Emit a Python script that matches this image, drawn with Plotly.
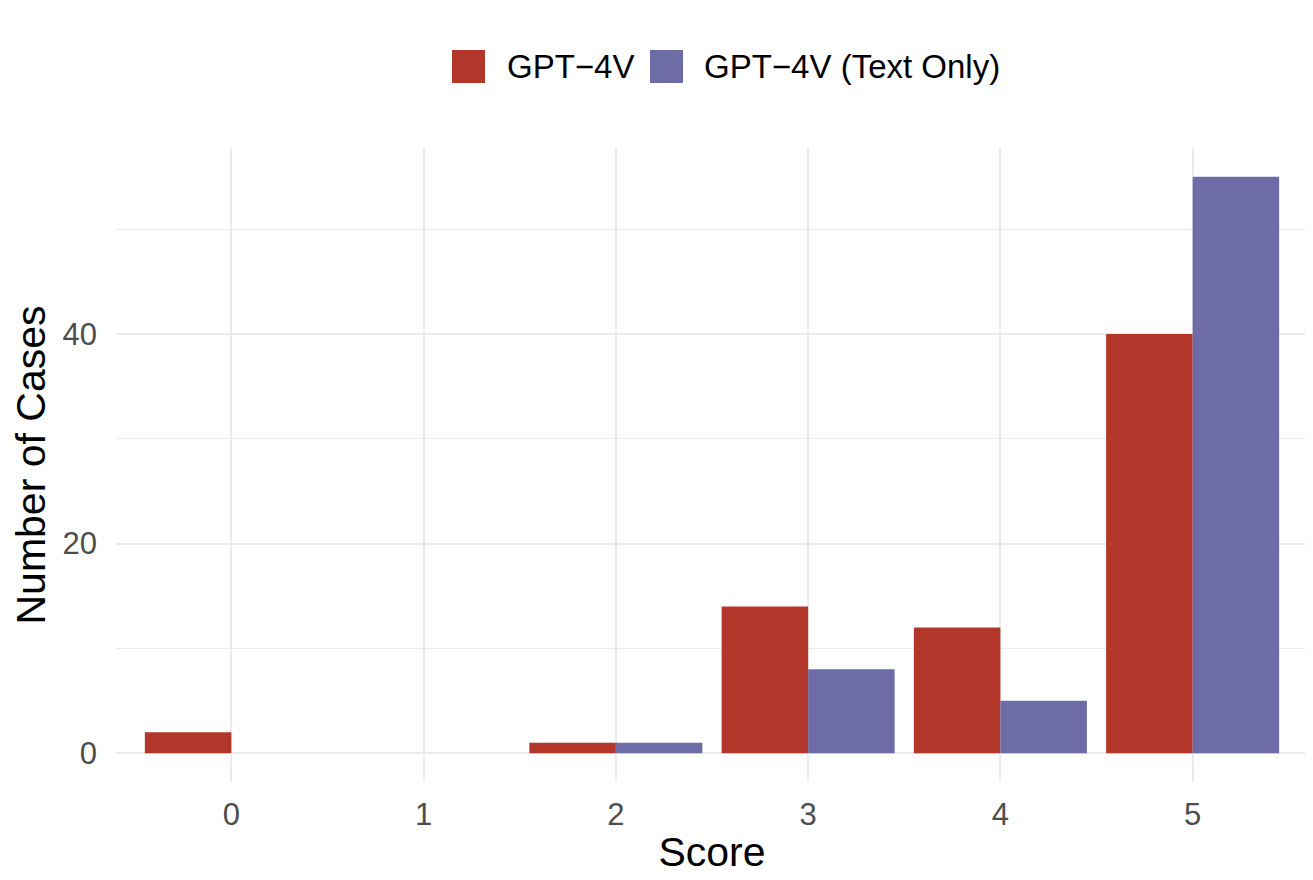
import plotly.graph_objects as go

scores = ["0", "1", "2", "3", "4", "5"]
gpt4v = [2, 0, 1, 14, 12, 40]
gpt4v_text = [0, 0, 1, 8, 5, 55]
series_names = ["GPT\u22124V", "GPT\u22124V (Text Only)"]
colors = ["#B2362A", "#6D6CA6"]
y_ticks = [0, 20, 40]

# page has an 8px body margin, so the figure is sized/positioned to compensate
OFF = 8
W, H = 1313 - OFF, 880 - OFF
L, R, T, B = 116 - OFF, 5, 148 - OFF, 98
PW, PH = W - L - R, H - T - B
FONT = "Liberation Sans, Arial, Helvetica, sans-serif"

def px_x(x):
    return (x - OFF - L) / PW

def px_y(y):
    return (H - B - (y - OFF)) / PH

fig = go.Figure()
for name, vals, col in zip(series_names, [gpt4v, gpt4v_text], colors):
    fig.add_trace(go.Bar(x=scores, y=vals, name=name, marker=dict(color=col, line=dict(width=0)),
                         showlegend=False))

# manual legend (ggplot-style large keys)
shapes = []
annotations = []
legend_items = [(452, 505), (650, 702)]
for (sx, tx), name, col in zip(legend_items, series_names, colors):
    shapes.append(dict(type="rect", xref="paper", yref="paper",
                       x0=px_x(sx), x1=px_x(sx + 33), y0=px_y(83), y1=px_y(50),
                       fillcolor=col, line=dict(width=0)))
    annotations.append(dict(text=name, xref="paper", yref="paper", x=px_x(tx), y=px_y(66.5),
                            xanchor="left", yanchor="middle", showarrow=False,
                            font=dict(family=FONT, size=33, color="black")))

fig.update_layout(
    width=W, height=H,
    margin=dict(l=L, r=R, t=T, b=B, pad=0),
    paper_bgcolor="white", plot_bgcolor="white",
    barmode="group", bargap=0.1, bargroupgap=0,
    font=dict(family=FONT),
    shapes=shapes, annotations=annotations,
    xaxis=dict(type="category", range=[-0.6, 5.6], showgrid=True, gridcolor="#EBEBEB", gridwidth=2.2,
               zeroline=False, showline=False, ticks="",
               tickfont=dict(size=31, color="#4D4D4D"), ticklabelstandoff=11,
               title=dict(text="Score", font=dict(size=41, color="black"), standoff=6)),
    yaxis=dict(range=[-2.75, 57.75], tickvals=y_ticks, showgrid=True, gridcolor="#EBEBEB", gridwidth=2.2,
               minor=dict(tickvals=[10, 30, 50], showgrid=True, gridcolor="#EBEBEB", gridwidth=1.4),
               zeroline=False, showline=False, ticks="",
               tickfont=dict(size=31, color="#4D4D4D"), ticklabelstandoff=18,
               title=dict(text="Number of Cases", font=dict(size=41, color="black"), standoff=14)),
)

fig.write_html("out.html")
